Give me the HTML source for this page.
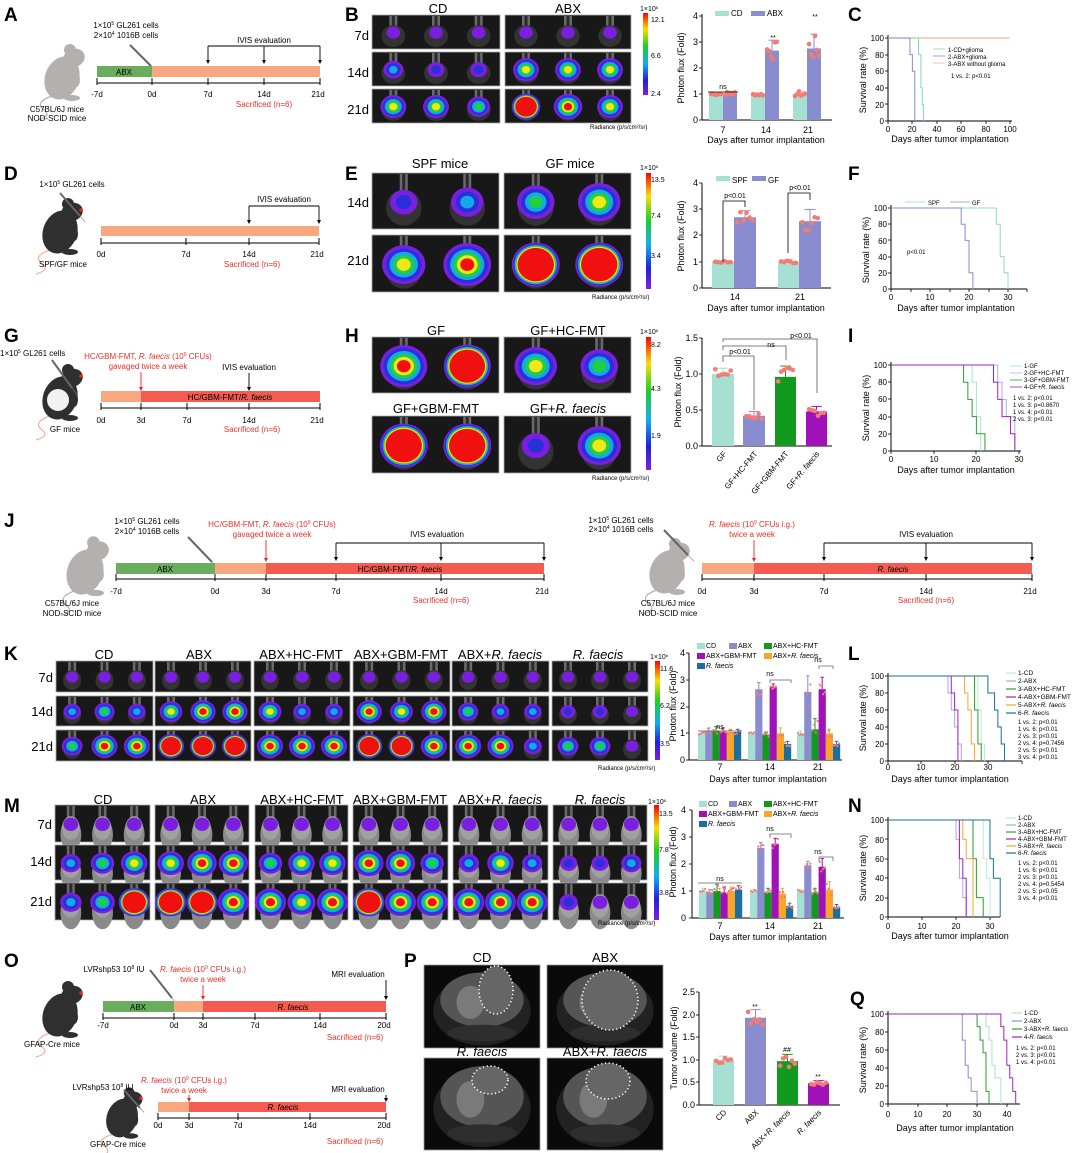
<!DOCTYPE html>
<html><head><meta charset="utf-8"><style>
body{margin:0;background:#fff}
svg{display:block;font-family:"Liberation Sans",sans-serif}
.L{font-weight:bold;font-size:19px}
.s{font-size:8px}
.x{font-size:7px}
.m{font-size:9px}
.h{font-size:13px}
.r{fill:#e8302a}
.i{font-style:italic}
.c{text-anchor:middle}
.e{text-anchor:end}
</style></head><body>
<svg id="s" width="1080" height="1153" viewBox="0 0 1080 1153" xmlns="http://www.w3.org/2000/svg">
<defs><linearGradient id="cb" x1="0" y1="0" x2="0" y2="1">
<stop offset="0" stop-color="#f00"/><stop offset=".2" stop-color="#f8e000"/><stop offset=".4" stop-color="#20d020"/><stop offset=".62" stop-color="#10b0f0"/><stop offset=".82" stop-color="#2020e0"/><stop offset="1" stop-color="#8020e0"/></linearGradient></defs>
<g id="dyn"></g>
<g id="txt">
<!-- A -->
<text class="L" x="4" y="21">A</text>
<text class="s c" x="126" y="28">1×10<tspan font-size="5" dy="-3">5</tspan><tspan dy="3"> GL261 cells</tspan></text>
<text class="s c" x="126" y="38">2×10<tspan font-size="5" dy="-3">4</tspan><tspan dy="3"> 1016B cells</tspan></text>
<text class="s c" x="124" y="75">ABX</text>
<text class="s c" x="264" y="43">IVIS evaluation</text>
<text class="s c" x="97" y="97">-7d</text><text class="s c" x="152" y="97">0d</text><text class="s c" x="208" y="97">7d</text><text class="s c" x="264" y="97">14d</text><text class="s c" x="318" y="97">21d</text>
<text class="s c r" x="264" y="107">Sacrificed (n=6)</text>
<text class="s c" x="57" y="112">C57BL/6J mice</text><text class="s c" x="57" y="121">NOD-SCID mice</text>
<!-- B -->
<text class="L" x="345" y="21">B</text>
<text class="h c" x="438" y="13">CD</text><text class="h c" x="568" y="13">ABX</text>
<text class="h e" x="369" y="40">7d</text><text class="h e" x="369" y="77">14d</text><text class="h e" x="369" y="114">21d</text>
<text class="x" x="640" y="11">1×10<tspan font-size="4" dy="-2">6</tspan></text>
<text class="x" x="651" y="22">12.1</text><text class="x" x="651" y="58">6.6</text><text class="x" x="651" y="96">2.4</text>
<text font-size="6" x="590" y="129">Radiance (p/s/cm²/sr)</text>
<text class="s" x="731" y="16">CD</text><text class="s" x="767" y="16">ABX</text>
<text class="m e" x="698" y="123">0</text><text class="m e" x="698" y="97">1</text><text class="m e" x="698" y="71">2</text><text class="m e" x="698" y="45">3</text><text class="m e" x="698" y="19">4</text>
<text class="m c" transform="translate(684,68) rotate(-90)">Photon flux  (Fold)</text>
<text class="x c" x="723" y="89">ns</text><text class="x c" x="773" y="40">**</text><text class="x c" x="815" y="19">**</text>
<text class="m c" x="723" y="133">7</text><text class="m c" x="766" y="133">14</text><text class="m c" x="808" y="133">21</text>
<text class="m c" x="766" y="143">Days after tumor implantation</text>
<!-- C -->
<text class="L" x="848" y="21">C</text>
<text class="m c" transform="translate(866,80) rotate(-90)">Survival rate (%)</text>
<text class="s e" x="884" y="124">0</text><text class="s e" x="884" y="108">20</text><text class="s e" x="884" y="91">40</text><text class="s e" x="884" y="74">60</text><text class="s e" x="884" y="58">80</text><text class="s e" x="884" y="41">100</text>
<text class="s c" x="888" y="132">0</text><text class="s c" x="912" y="132">20</text><text class="s c" x="937" y="132">40</text><text class="s c" x="961" y="132">60</text><text class="s c" x="986" y="132">80</text><text class="s c" x="1010" y="132">100</text>
<text class="m c" x="950" y="142">Days after tumor implantation</text>
<text font-size="6" x="948" y="52">1-CD+glioma</text><text font-size="6" x="948" y="59">2-ABX+glioma</text><text font-size="6" x="948" y="66">3-ABX without glioma</text>
<text font-size="6" x="951" y="78">1 vs. 2: p&lt;0.01</text>
<!-- D -->
<text class="L" x="4" y="180">D</text>
<text class="s c" x="72" y="187">1×10<tspan font-size="5" dy="-3">5</tspan><tspan dy="3"> GL261 cells</tspan></text>
<text class="s c" x="284" y="202">IVIS evaluation</text>
<text class="s c" x="101" y="257">0d</text><text class="s c" x="186" y="257">7d</text><text class="s c" x="249" y="257">14d</text><text class="s c" x="317" y="257">21d</text>
<text class="s c r" x="252" y="267">Sacrificed (n=6)</text>
<text class="s c" x="63" y="267">SPF/GF mice</text>
<!-- E -->
<text class="L" x="345" y="180">E</text>
<text class="h c" x="440" y="168">SPF mice</text><text class="h c" x="570" y="168">GF mice</text>
<text class="h e" x="369" y="207">14d</text><text class="h e" x="369" y="265">21d</text>
<text class="x" x="640" y="170">1×10<tspan font-size="4" dy="-2">6</tspan></text>
<text class="x" x="651" y="182">13.5</text><text class="x" x="651" y="218">7.4</text><text class="x" x="651" y="258">3.4</text>
<text font-size="6" x="592" y="299">Radiance (p/s/cm²/sr)</text>
<text class="s" x="732" y="183">SPF</text><text class="s" x="768" y="183">GF</text>
<text class="m e" x="698" y="291">0</text><text class="m e" x="698" y="265">1</text><text class="m e" x="698" y="238">2</text><text class="m e" x="698" y="212">3</text><text class="m e" x="698" y="186">4</text>
<text class="m c" transform="translate(684,236) rotate(-90)">Photon flux  (Fold)</text>
<text class="x c" x="735" y="198">p&lt;0.01</text><text class="x c" x="800" y="190">p&lt;0.01</text>
<text class="m c" x="735" y="300">14</text><text class="m c" x="800" y="300">21</text>
<text class="m c" x="766" y="311">Days after tumor implantation</text>
<!-- F -->
<text class="L" x="848" y="180">F</text>
<text class="m c" transform="translate(869,250) rotate(-90)">Survival rate (%)</text>
<text class="s e" x="887" y="292">0</text><text class="s e" x="887" y="276">20</text><text class="s e" x="887" y="260">40</text><text class="s e" x="887" y="244">60</text><text class="s e" x="887" y="227">80</text><text class="s e" x="887" y="211">100</text>
<text class="s c" x="891" y="300">0</text><text class="s c" x="930" y="300">10</text><text class="s c" x="969" y="300">20</text><text class="s c" x="1008" y="300">30</text>
<text class="m c" x="956" y="311">Days after tumor implantation</text>
<text font-size="6" x="928" y="205">SPF</text><text font-size="6" x="972" y="205">GF</text>
<text font-size="6" x="907" y="254">p&lt;0.01</text>
<!-- G -->
<text class="L" x="4" y="342">G</text>
<text class="s" x="0" y="356">1×10<tspan font-size="5" dy="-3">5</tspan><tspan dy="3"> GL261 cells</tspan></text>
<text class="s c r" x="148" y="359">HC/GBM-FMT, <tspan class="i">R. faecis</tspan> (10<tspan font-size="5" dy="-3">9</tspan><tspan dy="3"> CFUs)</tspan></text>
<text class="s c r" x="148" y="369">gavaged twice a week</text>
<text class="s c" x="249" y="370">IVIS evaluation</text>
<text class="s c" x="230" y="400">HC/GBM-FMT/<tspan class="i">R. faecis</tspan></text>
<text class="s c" x="101" y="423">0d</text><text class="s c" x="141" y="423">3d</text><text class="s c" x="187" y="423">7d</text><text class="s c" x="249" y="423">14d</text><text class="s c" x="317" y="423">21d</text>
<text class="s c r" x="252" y="432">Sacrificed (n=6)</text>
<text class="s c" x="65" y="432">GF mice</text>
<!-- H -->
<text class="L" x="345" y="342">H</text>
<text class="h c" x="436" y="335">GF</text><text class="h c" x="568" y="335">GF+HC-FMT</text>
<text class="h c" x="436" y="413">GF+GBM-FMT</text><text class="h c" x="568" y="413">GF+<tspan class="i">R. faecis</tspan></text>
<text class="x" x="640" y="334">1×10<tspan font-size="4" dy="-2">6</tspan></text>
<text class="x" x="651" y="347">8.2</text><text class="x" x="651" y="391">4.3</text><text class="x" x="651" y="438">1.9</text>
<text font-size="6" x="592" y="480">Radiance (p/s/cm²/sr)</text>
<text class="m e" x="698" y="449">0.0</text><text class="m e" x="698" y="413">0.5</text><text class="m e" x="698" y="377">1.0</text><text class="m e" x="698" y="341">1.5</text>
<text class="m c" transform="translate(681,392) rotate(-90)">Photon flux  (Fold)</text>
<text class="x c" x="740" y="354">p&lt;0.01</text><text class="x c" x="771" y="347">ns</text><text class="x c" x="801" y="338">p&lt;0.01</text>
<text class="s e" transform="translate(727,454) rotate(-50)">GF</text>
<text class="s e" transform="translate(758,454) rotate(-50)">GF+HC-FMT</text>
<text class="s e" transform="translate(789,454) rotate(-50)">GF+GBM-FMT</text>
<text class="s e" transform="translate(820,454) rotate(-50)">GF+<tspan class="i">R. faecis</tspan></text>
<!-- I -->
<text class="L" x="848" y="342">I</text>
<text class="m c" transform="translate(869,408) rotate(-90)">Survival rate (%)</text>
<text class="s e" x="887" y="454">0</text><text class="s e" x="887" y="437">20</text><text class="s e" x="887" y="420">40</text><text class="s e" x="887" y="402">60</text><text class="s e" x="887" y="385">80</text><text class="s e" x="887" y="368">100</text>
<text class="s c" x="891" y="462">0</text><text class="s c" x="934" y="462">10</text><text class="s c" x="976" y="462">20</text><text class="s c" x="1019" y="462">30</text>
<text class="m c" x="956" y="473">Days after tumor implantation</text>
<text font-size="6" x="1024" y="368">1-GF</text><text font-size="6" x="1024" y="375">2-GF+HC-FMT</text><text font-size="6" x="1024" y="382">3-GF+GBM-FMT</text><text font-size="6" x="1024" y="389">4-GF+<tspan class="i">R. faecis</tspan></text>
<text font-size="6" x="1013" y="400">1 vs. 2: p&lt;0.01</text><text font-size="6" x="1013" y="407">1 vs. 3: p=0.8670</text><text font-size="6" x="1013" y="414">1 vs. 4: p&lt;0.01</text><text font-size="6" x="1013" y="421">2 vs. 3: p&lt;0.01</text>
<!-- J -->
<text class="L" x="4" y="527">J</text>
<text class="s c" x="147" y="524">1×10<tspan font-size="5" dy="-3">5</tspan><tspan dy="3"> GL261 cells</tspan></text>
<text class="s c" x="147" y="534">2×10<tspan font-size="5" dy="-3">4</tspan><tspan dy="3"> 1016B cells</tspan></text>
<text class="s c r" x="272" y="527">HC/GBM-FMT, <tspan class="i">R. faecis</tspan> (10<tspan font-size="5" dy="-3">9</tspan><tspan dy="3"> CFUs)</tspan></text>
<text class="s c r" x="272" y="537">gavaged twice a week</text>
<text class="s c" x="437" y="537">IVIS evaluation</text>
<text class="s c" x="165" y="572">ABX</text><text class="s c" x="400" y="572">HC/GBM-FMT/<tspan class="i">R. faecis</tspan></text>
<text class="s c" x="116" y="594">-7d</text><text class="s c" x="215" y="594">0d</text><text class="s c" x="266" y="594">3d</text><text class="s c" x="336" y="594">7d</text><text class="s c" x="441" y="594">14d</text><text class="s c" x="542" y="594">21d</text>
<text class="s c r" x="441" y="603">Sacrificed (n=6)</text>
<text class="s c" x="72" y="606">C57BL/6J mice</text><text class="s c" x="72" y="616">NOD-SCID mice</text>
<text class="s c" x="621" y="523">1×10<tspan font-size="5" dy="-3">5</tspan><tspan dy="3"> GL261 cells</tspan></text>
<text class="s c" x="621" y="532">2×10<tspan font-size="5" dy="-3">4</tspan><tspan dy="3"> 1016B cells</tspan></text>
<text class="s c r" x="752" y="527"><tspan class="i">R. faecis</tspan> (10<tspan font-size="5" dy="-3">9</tspan><tspan dy="3"> CFUs i.g.)</tspan></text>
<text class="s c r" x="752" y="537">twice a week</text>
<text class="s c" x="926" y="537">IVIS evaluation</text>
<text class="s c i" x="893" y="572">R. faecis</text>
<text class="s c" x="702" y="594">0d</text><text class="s c" x="754" y="594">3d</text><text class="s c" x="824" y="594">7d</text><text class="s c" x="926" y="594">14d</text><text class="s c" x="1030" y="594">21d</text>
<text class="s c r" x="926" y="603">Sacrificed (n=6)</text>
<text class="s c" x="668" y="606">C57BL/6J mice</text><text class="s c" x="668" y="616">NOD-SCID mice</text>
<!-- K -->
<text class="L" x="4" y="660">K</text>
<text class="h c" x="104" y="659">CD</text><text class="h c" x="199" y="659">ABX</text><text class="h c" x="301" y="659">ABX+HC-FMT</text><text class="h c" x="401" y="659">ABX+GBM-FMT</text><text class="h c" x="500" y="659">ABX+<tspan class="i">R. faecis</tspan></text><text class="h c i" x="598" y="659">R. faecis</text>
<text class="h e" x="53" y="682">7d</text><text class="h e" x="53" y="716">14d</text><text class="h e" x="53" y="751">21d</text>
<text class="x" x="650" y="659">1×10<tspan font-size="4" dy="-2">6</tspan></text>
<text class="x" x="660" y="671">11.6</text><text class="x" x="660" y="708">6.2</text><text class="x" x="660" y="746">3.5</text>
<text font-size="6" x="598" y="770">Radiance (p/s/cm²/sr)</text>
<text font-size="7" x="706" y="648">CD</text><text font-size="7" x="738" y="648">ABX</text><text font-size="7" x="773" y="648">ABX+HC-FMT</text>
<text font-size="7" x="706" y="658">ABX+GBM-FMT</text><text font-size="7" x="773" y="658">ABX+<tspan class="i">R. faecis</tspan></text>
<text font-size="7" x="706" y="668" class="i">R. faecis</text>
<text class="m e" x="685" y="763">0</text><text class="m e" x="685" y="736">1</text><text class="m e" x="685" y="709">2</text><text class="m e" x="685" y="683">3</text><text class="m e" x="685" y="656">4</text>
<text class="m c" transform="translate(676,706) rotate(-90)">Photon flux  (Fold)</text>
<text class="x c" x="720" y="729">ns</text><text class="x c" x="770" y="676">ns</text><text class="x c" x="818" y="662">ns</text>
<text class="m c" x="720" y="770">7</text><text class="m c" x="770" y="770">14</text><text class="m c" x="818" y="770">21</text>
<text class="m c" x="768" y="782">Days after tumor implantation</text>
<!-- L -->
<text class="L" x="848" y="660">L</text>
<text class="m c" transform="translate(866,718) rotate(-90)">Survival rate (%)</text>
<text class="s e" x="884" y="764">0</text><text class="s e" x="884" y="747">20</text><text class="s e" x="884" y="730">40</text><text class="s e" x="884" y="713">60</text><text class="s e" x="884" y="696">80</text><text class="s e" x="884" y="679">100</text>
<text class="s c" x="888" y="770">0</text><text class="s c" x="921" y="770">10</text><text class="s c" x="955" y="770">20</text><text class="s c" x="988" y="770">30</text>
<text class="m c" x="950" y="782">Days after tumor implantation</text>
<text font-size="6.5" x="1018" y="675">1-CD</text><text font-size="6.5" x="1018" y="683">2-ABX</text><text font-size="6.5" x="1018" y="691">3-ABX+HC-FMT</text><text font-size="6.5" x="1018" y="699">4-ABX+GBM-FMT</text><text font-size="6.5" x="1018" y="707">5-ABX+<tspan class="i">R. faecis</tspan></text><text font-size="6.5" x="1018" y="715">6-<tspan class="i">R. faecis</tspan></text>
<text font-size="6" x="1018" y="724">1 vs. 2: p&lt;0.01</text><text font-size="6" x="1018" y="731">1 vs. 6: p&lt;0.01</text><text font-size="6" x="1018" y="738">2 vs. 3: p&lt;0.01</text><text font-size="6" x="1018" y="745">2 vs. 4: p=0.7456</text><text font-size="6" x="1018" y="752">2 vs. 5: p&lt;0.01</text><text font-size="6" x="1018" y="759">3 vs. 4: p&lt;0.01</text>
<!-- M -->
<text class="L" x="4" y="812">M</text>
<text class="h c" x="103" y="804">CD</text><text class="h c" x="203" y="804">ABX</text><text class="h c" x="302" y="804">ABX+HC-FMT</text><text class="h c" x="400" y="804">ABX+GBM-FMT</text><text class="h c" x="500" y="804">ABX+<tspan class="i">R. faecis</tspan></text><text class="h c i" x="600" y="804">R. faecis</text>
<text class="h e" x="52" y="829">7d</text><text class="h e" x="52" y="866">14d</text><text class="h e" x="52" y="906">21d</text>
<text class="x" x="648" y="804">1×10<tspan font-size="4" dy="-2">6</tspan></text>
<text class="x" x="659" y="816">13.5</text><text class="x" x="659" y="852">7.8</text><text class="x" x="659" y="895">3.8</text>
<text font-size="6" x="598" y="925">Radiance (p/s/cm²/sr)</text>
<text font-size="7" x="708" y="806">CD</text><text font-size="7" x="738" y="806">ABX</text><text font-size="7" x="773" y="806">ABX+HC-FMT</text>
<text font-size="7" x="708" y="816">ABX+GBM-FMT</text><text font-size="7" x="773" y="816">ABX+<tspan class="i">R. faecis</tspan></text>
<text font-size="7" x="708" y="826" class="i">R. faecis</text>
<text class="m e" x="686" y="921">0</text><text class="m e" x="686" y="894">1</text><text class="m e" x="686" y="867">2</text><text class="m e" x="686" y="840">3</text><text class="m e" x="686" y="813">4</text>
<text class="m c" transform="translate(676,862) rotate(-90)">Photon flux  (Fold)</text>
<text class="x c" x="720" y="881">ns</text><text class="x c" x="770" y="831">ns</text><text class="x c" x="818" y="854">ns</text>
<text class="m c" x="720" y="929">7</text><text class="m c" x="770" y="929">14</text><text class="m c" x="818" y="929">21</text>
<text class="m c" x="768" y="940">Days after tumor implantation</text>
<!-- N -->
<text class="L" x="848" y="812">N</text>
<text class="m c" transform="translate(866,868) rotate(-90)">Survival rate (%)</text>
<text class="s e" x="884" y="920">0</text><text class="s e" x="884" y="901">20</text><text class="s e" x="884" y="881">40</text><text class="s e" x="884" y="862">60</text><text class="s e" x="884" y="843">80</text><text class="s e" x="884" y="823">100</text>
<text class="s c" x="888" y="929">0</text><text class="s c" x="922" y="929">10</text><text class="s c" x="956" y="929">20</text><text class="s c" x="990" y="929">30</text>
<text class="m c" x="950" y="939">Days after tumor implantation</text>
<text font-size="6" x="1018" y="820">1-CD</text><text font-size="6" x="1018" y="827">2-ABX</text><text font-size="6" x="1018" y="834">3-ABX+HC-FMT</text><text font-size="6" x="1018" y="841">4-ABX+GBM-FMT</text><text font-size="6" x="1018" y="848">5-ABX+<tspan class="i">R. faecis</tspan></text><text font-size="6" x="1018" y="855">6-<tspan class="i">R. faecis</tspan></text>
<text font-size="6" x="1018" y="865">1 vs. 2: p&lt;0.01</text><text font-size="6" x="1018" y="872">1 vs. 6: p&lt;0.01</text><text font-size="6" x="1018" y="879">2 vs. 3: p&lt;0.01</text><text font-size="6" x="1018" y="886">2 vs. 4: p=0.5454</text><text font-size="6" x="1018" y="893">2 vs. 5: p&lt;0.05</text><text font-size="6" x="1018" y="900">3 vs. 4: p&lt;0.01</text>
<!-- O -->
<text class="L" x="4" y="967">O</text>
<text class="s c" x="114" y="972">LVRshp53 10<tspan font-size="5" dy="-3">8</tspan><tspan dy="3"> IU</tspan></text>
<text class="s c r" x="203" y="972"><tspan class="i">R. faecis</tspan> (10<tspan font-size="5" dy="-3">9</tspan><tspan dy="3"> CFUs i.g.)</tspan></text>
<text class="s c r" x="203" y="982">twice a week</text>
<text class="s c" x="358" y="977">MRI evaluation</text>
<text class="s c" x="138" y="1010">ABX</text><text class="s c i" x="293" y="1010">R. faecis</text>
<text class="s c" x="103" y="1028">-7d</text><text class="s c" x="174" y="1028">0d</text><text class="s c" x="203" y="1028">3d</text><text class="s c" x="255" y="1028">7d</text><text class="s c" x="320" y="1028">14d</text><text class="s c" x="384" y="1028">20d</text>
<text class="s c r" x="355" y="1040">Sacrificed (n=6)</text>
<text class="s c" x="52" y="1047">GFAP-Cre mice</text>
<text class="s c" x="103" y="1090">LVRshp53 10<tspan font-size="5" dy="-3">8</tspan><tspan dy="3"> IU</tspan></text>
<text class="s c r" x="184" y="1083"><tspan class="i">R. faecis</tspan> (10<tspan font-size="5" dy="-3">9</tspan><tspan dy="3"> CFUs i.g.)</tspan></text>
<text class="s c r" x="184" y="1093">twice a week</text>
<text class="s c" x="358" y="1092">MRI evaluation</text>
<text class="s c i" x="283" y="1110">R. faecis</text>
<text class="s c" x="158" y="1128">0d</text><text class="s c" x="189" y="1128">3d</text><text class="s c" x="238" y="1128">7d</text><text class="s c" x="310" y="1128">14d</text><text class="s c" x="384" y="1128">20d</text>
<text class="s c r" x="355" y="1144">Sacrificed (n=6)</text>
<text class="s c" x="118" y="1147">GFAP-Cre mice</text>
<!-- P -->
<text class="L" x="404" y="967">P</text>
<text class="h c" x="482" y="962">CD</text><text class="h c" x="605" y="962">ABX</text>
<text class="h c i" x="482" y="1056">R. faecis</text><text class="h c" x="605" y="1056">ABX+<tspan class="i">R. faecis</tspan></text>
<text class="m e" x="695" y="1108">0.0</text><text class="m e" x="695" y="1085">0.5</text><text class="m e" x="695" y="1063">1.0</text><text class="m e" x="695" y="1040">1.5</text><text class="m e" x="695" y="1018">2.0</text><text class="m e" x="695" y="995">2.5</text>
<text class="m c" transform="translate(677,1048) rotate(-90)">Tumor volume (Fold)</text>
<text class="x c" x="755" y="1009">**</text><text class="x c" x="787" y="1052">##</text><text class="x c" x="818" y="1079">**</text>
<text class="s e" transform="translate(727,1113) rotate(-45)">CD</text>
<text class="s e" transform="translate(759,1113) rotate(-45)">ABX</text>
<text class="s e" transform="translate(791,1113) rotate(-45)">ABX+<tspan class="i">R. faecis</tspan></text>
<text class="s e i" transform="translate(822,1113) rotate(-45)">R. faecis</text>
<!-- Q -->
<text class="L" x="850" y="1005">Q</text>
<text class="m c" transform="translate(866,1060) rotate(-90)">Survival rate (%)</text>
<text class="s e" x="884" y="1107">0</text><text class="s e" x="884" y="1089">20</text><text class="s e" x="884" y="1071">40</text><text class="s e" x="884" y="1053">60</text><text class="s e" x="884" y="1035">80</text><text class="s e" x="884" y="1017">100</text>
<text class="s c" x="888" y="1117">0</text><text class="s c" x="918" y="1117">10</text><text class="s c" x="947" y="1117">20</text><text class="s c" x="977" y="1117">30</text><text class="s c" x="1007" y="1117">40</text>
<text class="m c" x="955" y="1131">Days after tumor implantation</text>
<text font-size="6" x="1024" y="1015">1-CD</text><text font-size="6" x="1024" y="1023">2-ABX</text><text font-size="6" x="1024" y="1031">3-ABX+<tspan class="i">R. faecis</tspan></text><text font-size="6" x="1024" y="1039">4-<tspan class="i">R. faecis</tspan></text>
<text font-size="6" x="1016" y="1050">1 vs. 2: p&lt;0.01</text><text font-size="6" x="1016" y="1057">2 vs. 3: p&lt;0.01</text><text font-size="6" x="1016" y="1064">1 vs. 4: p&lt;0.01</text>
</g>
</svg>
<script>
const NS='http://www.w3.org/2000/svg';const G=document.getElementById('dyn');
function E(t,a){const e=document.createElementNS(NS,t);for(const k in a)e.setAttribute(k,a[k]);G.appendChild(e);return e;}
function R(x,y,w,h,f,o){return E('rect',Object.assign({x:x,y:y,width:w,height:h,fill:f},o||{}));}
function L(x1,y1,x2,y2,s,w){return E('line',{x1:x1,y1:y1,x2:x2,y2:y2,stroke:s||'#000','stroke-width':w||0.8});}
function P(d,s,w,f,o){return E('path',Object.assign({d:d,stroke:s||'#000','stroke-width':w||0.8,fill:f||'none'},o||{}));}
let seed=7;function rnd(){seed=(seed*9301+49297)%233280;return seed/233280;}
const BC=['#7a1fe0','#2a30d8','#14a8e8','#20d040','#f0e818','#f01010'];
function blob(cx,cy,r,lv){
 if(lv>=6){const k=[1,.94,.89,.85,.81,.76];for(let i=0;i<6;i++)E('ellipse',{cx:cx,cy:cy,rx:r*k[i],ry:r*k[i]*.92,fill:BC[i]});return;}
 for(let i=0;i<=lv;i++){const k=1-i/(lv+1)*.85;E('ellipse',{cx:cx,cy:cy,rx:r*k,ry:r*k*.9,fill:BC[i]});}
}
function tile(x,y,w,h,lvs,body){
 R(x,y,w,h,'#181818',{stroke:'#aaa','stroke-width':.8});
 const n=lvs.length;
 for(let i=0;i<n;i++){const cx=x+w*(i+.5)/n;
  R(cx-4,y+1,8,h*.3,'#6a6a6a');R(cx-1.5,y+1,3,h*.3,'#2a2a2a');
  if(body){E('ellipse',{cx:cx,cy:y+h*.8,rx:w/n*.33,ry:h*.45,fill:'#8a8a8a'});}
  E('ellipse',{cx:cx,cy:y+h*.62,rx:w/n*.28,ry:h*.32,fill:body?'#a0a0a0':'#333'});
  const lv=lvs[i];const r=Math.min(h*.42,h*.2+lv*h*.045);
  blob(cx,y+h*.52,r,lv);
 }
}
function cbar(x,y1,y2){R(x,y1,5,y2-y1,'url(#cb)');}
function mouse(x,y,s,c,tail,white){
 P(`M${x-10*s},${y+18*s} q-18,${6*s} -8,${14*s} q8,6 -6,10`,tail||c,1.2);
 E('ellipse',{cx:x,cy:y,rx:17*s,ry:22*s,fill:c,transform:`rotate(20 ${x} ${y})`});
 E('ellipse',{cx:x+12*s,cy:y-20*s,rx:11*s,ry:9*s,fill:c,transform:`rotate(-20 ${x+12*s} ${y-20*s})`});
 E('circle',{cx:x+8*s,cy:y-28*s,r:6*s,fill:c});
 E('ellipse',{cx:x+14*s,cy:y+2*s,rx:4*s,ry:7*s,fill:c});
 E('ellipse',{cx:x+10*s,cy:y+20*s,rx:8*s,ry:3*s,fill:c});
 if(white)E('circle',{cx:x-2*s,cy:y+2*s,r:11*s,fill:'#f2f2f2'});
 if(tail){E('circle',{cx:x+21*s,cy:y-22*s,r:1.8,fill:'#e22'});}
}
function syr(x1,y1,x2,y2){L(x1,y1,x2,y2,'#666',2);L(x2,y2,x2+(x2-x1)*.25,y2+(y2-y1)*.25,'#888',.6);}
function arrow(x,y1,y2,c){L(x,y1,x,y2-3,c||'#000',.9);E('path',{d:`M${x-2},${y2-4}L${x+2},${y2-4}L${x},${y2}Z`,fill:c||'#000'});}
function axisT(ticks,y,y2){ticks.forEach(t=>L(t,y,t,y2,'#000',1));}
function bar(x,w,y0,u,v,c,err,nd,dr){
 R(x,y0-v*u,w,v*u,c);
 const cx=x+w/2,top=y0-(v+err)*u;
 L(cx,y0-v*u,cx,top,c,1);L(cx-w*.25,top,cx+w*.25,top,c,1);
 for(let j=0;j<nd;j++){E('circle',{cx:x+w*(.15+.7*j/(nd-1)),cy:y0-(v+(rnd()-.5)*err*1.8)*u,r:dr||2.3,fill:'#f47c72'});}
}
function surv(x0,sx,y100,y0,pts,c,w){
 const Y=p=>y0-(y0-y100)*p/100;let d=`M${x0},${Y(100)}`;
 pts.forEach(p=>{d+=`H${x0+p[0]*sx}V${Y(p[1])}`;});
 P(d,c,w||1);
}
function saxes(x0,xe,y100,y0,ticksx,ticksy){
 L(x0,y100-3,x0,y0,'#000',1);L(x0,y0,xe,y0,'#000',1);
 ticksx.forEach(t=>L(t,y0,t,y0+3,'#000',.8));ticksy.forEach(t=>L(x0-3,t,x0,t,'#000',.8));
}
const TL='#a6e0d2',PU='#8a8cd0',GR='#6aad5e',SA='#f9a77f',RD='#f45c52';
// A
mouse(62,78,1,'#b5b0b0');
syr(130,45,151,66);
R(97,66,55,11,GR);R(152,66,168,11,SA);
L(97,83,320,83,'#000',1);axisT([97,152,208,264,320],78,85);
L(208,46,320,46,'#000',1);arrow(208,46,64);arrow(264,46,64);arrow(320,46,64);
// B
[[0,0,0],[2,1,1],[4,4,3]].forEach((l,i)=>{tile(372,[15,52,89][i],128,34,l);});
[[0,0,0],[4,4,4],[6,5,4]].forEach((l,i)=>{tile(505,[15,52,89][i],126,34,l);});
cbar(643,13,95);
R(715,11,14,5,TL);R(751,11,14,5,PU);
L(702,14,702,120,'#000',1);L(702,120,832,120,'#000',1);
[120,94,68,42,16].forEach(t=>L(699,t,702,t));
const B=[[1,1.02,.05,.08],[.98,2.67,.05,.4],[1.0,2.75,.12,.55]];const bx=[709,751,793];
B.forEach((g,i)=>{bar(bx[i],14,120,26,g[0],TL,g[2],6);bar(bx[i]+14,14,120,26,g[1],PU,g[3],6);});
L(708,92,738,92,'#000',.8);
// C
saxes(888,1012,38,121,[888,912,937,961,986,1010],[38,55,71,88,104,121]);
surv(888,1.22,38,121,[[100,100]],'#f9b98a',1.3);
surv(888,1.22,38,121,[[25,80],[27,40],[28,20],[29,0]],'#7fd8b8');
surv(888,1.22,38,121,[[18,80],[20,60],[22,0]],PU);
L(933,49,945,49,'#7fd8b8');L(933,56,945,56,PU);L(933,63,945,63,'#f9b98a');
// D
mouse(60,232,1,'#2f2f2f','#f0b0a0');
syr(60,193,80,216);
R(101,226,218,10,SA);L(101,243,319,243,'#000',1);axisT([101,186,249,319],238,245);
L(249,206,319,206,'#000',1);arrow(249,206,224);arrow(319,206,224);
// E
tile(372,173,127,56,[1,2]);tile(504,173,127,56,[3,4]);
tile(372,235,127,57,[4,5]);tile(504,235,127,57,[6,6]);
cbar(646,173,289);
R(716,176,14,5,TL);R(752,176,14,5,PU);
L(702,183,702,288,'#000',1);L(702,288,831,288,'#000',1);[288,262,235,209,183].forEach(t=>L(699,t,702,t));
bar(712,22,288,26.2,1.0,TL,.05,6);bar(734,22,288,26.2,2.7,PU,.25,6);
bar(778,21,288,26.2,1.0,TL,.08,6);bar(799,22,288,26.2,2.55,PU,.45,6);
P('M723,262V201H745V207');P('M788,253V193H810V200');
// F
saxes(891,1027,208,289,[891,911,930,950,969,989,1008,1027],[208,224,240,257,273,289]);
surv(891,3.9,208,289,[[27,80],[28,40],[29,20],[30,0]],'#8fdcc0');
surv(891,3.9,208,289,[[18,80],[19,60],[20,20],[21,0]],PU);
L(905,202,925,202,'#8fdcc0');L(950,202,970,202,PU);
// G
mouse(60,398,1,'#2f2f2f','#f0b0a0',true);
syr(52,360,72,388);
R(101,391,40,11,SA);R(141,391,179,11,RD);
L(101,408,320,408,'#000',1);axisT([101,141,187,249,320],403,410);
arrow(141,372,391,'#e22');arrow(249,373,391);
// H
tile(372,337,127,56,[5,6]);tile(504,337,127,56,[4,3]);
tile(372,416,127,57,[6,6]);tile(504,416,127,57,[1,4]);
cbar(646,337,470);
L(702,338,702,446,'#000',1);L(702,446,832,446,'#000',1);[446,410,374,338].forEach(t=>L(699,t,702,t));
bar(712,22,446,72,1.0,TL,.08,6);bar(743,22,446,72,.42,PU,.06,6);bar(775,21,446,72,.96,'#119a1e',.15,6);bar(806,21,446,72,.48,'#a012b8',.07,6);
P('M723,362V356H754V410','#555');P('M723,350V346H786V360','#555');P('M723,342V339H817V393','#555');
// I
saxes(891,1021,365,451,[891,934,976,1019],[365,382,399,417,434,451]);
surv(891,4.27,365,451,[[19,80],[20,40],[21,0]],'#a6e6cc');
surv(891,4.27,365,451,[[25,80],[26,60],[27,40],[29,0]],'#b0b0e6');
surv(891,4.27,365,451,[[17,80],[18,60],[19,40],[20,20],[22,0]],'#2aa02a');
surv(891,4.27,365,451,[[24,80],[25,60],[26,40],[28,20],[29,0]],'#a020c0');
L(1010,366,1022,366,'#a6e6cc');L(1010,373,1022,373,'#b0b0e6');L(1010,380,1022,380,'#2aa02a');L(1010,387,1022,387,'#a020c0');
// J
mouse(85,572,1.05,'#b5b0b0');
syr(188,537,212,562);
R(116,563,99,11,GR);R(215,563,51,11,SA);R(266,563,278,11,RD);
L(116,579,544,579,'#000',1);axisT([116,215,266,336,441,544],574,581);
arrow(266,540,562,'#e22');
L(336,543,544,543,'#000',1);arrow(336,543,561);arrow(441,543,561);arrow(544,543,561);
mouse(667,572,1,'#b5b0b0');
syr(664,530,688,555);
R(702,563,52,11,SA);R(754,563,278,11,RD);
L(702,579,1032,579,'#000',1);axisT([702,754,824,926,1032],574,581);
arrow(754,540,562,'#e22');
L(824,543,1032,543,'#000',1);arrow(824,543,561);arrow(926,543,561);arrow(1032,543,561);
// K
const KX=[[56,153],[155,251],[254,350],[353,450],[452,549],[552,648]];
const K14=[[2,3,2],[4,5,5],[4,2,2],[5,4,5],[3,2,2],[1,1,0]];
const K21=[[3,5,5],[6,6,6],[5,5,5],[6,6,5],[5,5,2],[3,3,0]];
KX.forEach((g,i)=>{tile(g[0],661,g[1]-g[0],31,[0,0,0]);tile(g[0],696,g[1]-g[0],30,K14[i]);tile(g[0],730,g[1]-g[0],31,K21[i]);});
cbar(655,661,760);
const CC=['#a6e0d2','#8a8cd0','#119a1e','#a012b8','#f9a52a','#1a6fa0'];
[[697,643,0],[729,643,1],[764,643,2],[697,653,3],[764,653,4],[697,663,5]].forEach(l=>R(l[0],l[1],8,6,CC[l[2]]));
function six(y0,u,vals,starts,errs){vals.forEach((g,gi)=>g.forEach((v,bi)=>bar(starts[gi]+bi*7.2,7.2,y0,u,v,CC[bi],errs[gi][bi],4,1.1)));}
L(689,653,689,760,'#000',1);L(689,760,842,760,'#000',1);[760,733,707,680,653].forEach(t=>L(686,t,689,t));
six(760,26.7,[[1,1.1,1.1,1.05,1.05,1.05],[1,2.65,.95,2.75,1,.6],[1,2.55,1.15,2.65,1,.6]],[698,748,797],[[.08,.1,.15,.15,.1,.1],[.05,.25,.1,.1,.2,.1],[.1,.6,.4,.45,.15,.1]]);
L(698,731,742,731,'#666');P('M770,683V680H791V683','#666');P('M819,669V666H833V669','#666');
// L
saxes(888,1022,676,761,[888,921,955,988,1022],[676,693,710,727,744,761]);
surv(888,3.33,676,761,[[27,60],[28,20],[29,0]],'#b8ecd8');
surv(888,3.33,676,761,[[18,80],[19,60],[20,40],[21,20],[22,0]],'#a8a8e0');
surv(888,3.33,676,761,[[26,60],[27,20],[28,0]],'#2aa02a');
surv(888,3.33,676,761,[[19,80],[20,60],[21,0]],'#a020c0');
surv(888,3.33,676,761,[[23,80],[24,60],[25,20],[26,0]],'#f9a52a');
surv(888,3.33,676,761,[[30,80],[32,60],[33,40],[34,20],[35,0]],'#1a6fa0');
['#b8ecd8','#a8a8e0','#2aa02a','#a020c0','#f9a52a','#1a6fa0'].forEach((c,i)=>L(1006,673+i*8,1016,673+i*8,c,1.2));
// M
const MX=[[55,150],[155,249],[255,348],[353,448],[453,548],[553,647]];
const M14=[[2,3,4],[4,5,5],[3,4,4],[5,5,3],[2,4,2],[1,1,2]];
const M21=[[2,3,6],[6,6,5],[5,4,5],[6,5,5],[5,5,5],[1,0,0]];
MX.forEach((g,i)=>{tile(g[0],805,g[1]-g[0],37,[0,0,0],1);tile(g[0],845,g[1]-g[0],35,M14[i],1);tile(g[0],883,g[1]-g[0],37,M21[i],1);});
cbar(654,805,920);
[[699,801,0],[729,801,1],[764,801,2],[699,811,3],[764,811,4],[699,821,5]].forEach(l=>R(l[0],l[1],8,6,CC[l[2]]));
L(692,810,692,918,'#000',1);L(692,918,844,918,'#000',1);[918,891,864,837,810].forEach(t=>L(689,t,692,t));
six(918,27,[[1,.95,1,.95,1,1.05],[1,2.6,.95,2.75,.9,.45],[1,1.95,.95,1.9,1.05,.4]],[699,750,797],[[.1,.1,.25,.2,.15,.15],[.05,.2,.15,.2,.2,.1],[.05,.15,.15,.3,.3,.1]]);
L(698,883,742,883,'#666');P('M770,838V834H791V838','#666');P('M819,861V857H833V861','#666');
// N
saxes(888,1000,820,917,[888,922,956,990],[820,839,859,878,898,917]);
surv(888,3.4,820,917,[[28,60],[29,40],[30,0]],'#b8ecd8');
surv(888,3.4,820,917,[[20,80],[21,40],[22,20],[23,0]],'#a8a8e0');
surv(888,3.4,820,917,[[25,60],[26,20],[28,0]],'#2aa02a');
surv(888,3.4,820,917,[[21,60],[22,40],[23,0]],'#a020c0');
surv(888,3.4,820,917,[[22,80],[23,60],[25,0]],'#f9a52a');
surv(888,3.4,820,917,[[30,60],[31,40],[33,0]],'#1a6fa0');
['#b8ecd8','#a8a8e0','#2aa02a','#a020c0','#f9a52a','#1a6fa0'].forEach((c,i)=>L(1006,818+i*7,1016,818+i*7,c,1.2));
// O
mouse(60,1015,1,'#2f2f2f','#f0b0a0');
syr(150,970,172,998);
R(103,1001,71,11,GR);R(174,1001,29,11,SA);R(203,1001,183,11,RD);
L(103,1018,386,1018,'#000',1);axisT([103,174,203,255,320,386],1013,1020);
arrow(203,985,1000,'#e22');arrow(386,980,1000);
mouse(122,1118,.9,'#2f2f2f','#f0b0a0');
syr(124,1090,140,1108);
R(158,1102,31,10,SA);R(189,1102,197,10,RD);
L(158,1118,386,1118,'#000',1);axisT([158,189,238,310,386],1113,1120);
arrow(189,1095,1102,'#e22');arrow(386,1095,1102);
// P MRI
function mri(x,y,w,h,tx,ty,trx,try_){
 R(x,y,w,h,'#0a0a0a',{stroke:'#999','stroke-width':.8});
 E('ellipse',{cx:x+w/2,cy:y+h*.55,rx:w*.42,ry:h*.42,fill:'#222'});
 E('ellipse',{cx:x+w/2,cy:y+h*.42,rx:w*.36,ry:h*.33,fill:'#555'});
 E('ellipse',{cx:x+w*.4,cy:y+h*.45,rx:w*.12,ry:h*.2,fill:'#7a7a7a'});
 E('ellipse',{cx:x+w/2,cy:y+h*.82,rx:w*.3,ry:h*.1,fill:'#2e2e2e'});
 E('ellipse',{cx:tx,cy:ty,rx:trx,ry:try_,fill:'#666',stroke:'#fff','stroke-width':1.6,'stroke-dasharray':'1.2 2.6'});
}
mri(424,965,116,83,496,990,17,24);mri(547,965,116,83,610,1000,28,30);
mri(424,1058,116,92,490,1080,18,14);mri(547,1058,116,92,608,1081,22,18);
L(699,992,699,1105,'#000',1);L(699,1105,840,1105,'#000',1);[1105,1082,1060,1037,1015,992].forEach(t=>L(696,t,699,t));
bar(713,21,1105,45.2,1.0,TL,.08,6);bar(745,21,1105,45.2,1.93,PU,.18,6);bar(777,21,1105,45.2,.97,'#119a1e',.15,6);bar(808,21,1105,45.2,.48,'#a012b8',.06,6);
// Q
saxes(888,1020,1014,1104,[888,918,947,977,1007],[1014,1032,1050,1068,1086,1104]);
surv(888,2.97,1014,1104,[[33,86],[34,71],[35,43],[36,29],[38,0]],'#a6e6cc');
surv(888,2.97,1014,1104,[[25,71],[26,43],[27,29],[28,14],[30,0]],'#8a8cd0');
surv(888,2.97,1014,1104,[[30,86],[31,71],[32,57],[33,14],[34,0]],'#2aa02a');
surv(888,2.97,1014,1104,[[38,86],[39,71],[40,43],[41,29],[42,14],[43,0]],'#a020c0');
['#a6e6cc','#8a8cd0','#2aa02a','#a020c0'].forEach((c,i)=>L(1012,1013+i*8,1022,1013+i*8,c,1.2));
</script>
</body></html>
